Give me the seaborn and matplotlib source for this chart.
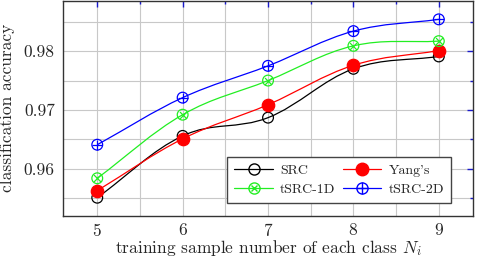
import numpy as np
import pandas as pd
import seaborn as sns
import matplotlib
matplotlib.use("Agg")
import matplotlib.pyplot as plt
from matplotlib.path import Path
from matplotlib.patches import PathPatch
from matplotlib.lines import Line2D
from matplotlib.ticker import MultipleLocator

# ---- data ----
samples = [5, 6, 7, 8, 9]
src = [0.9551, 0.9656, 0.9687, 0.9770, 0.9791]
yang = [0.9563, 0.9651, 0.9709, 0.9776, 0.9801]
tsrc1d = [0.9584, 0.9692, 0.9750, 0.9809, 0.9817]
tsrc2d = [0.9641, 0.9721, 0.9775, 0.9834, 0.9854]
series_names = ["SRC", "Yang's", "tSRC-1D", "tSRC-2D"]
x_label = "training sample number of each class $N_i$"
y_label = "classification accuracy"

sns.set_theme(style="white")
plt.rcParams["font.family"] = ["cmr10", "DejaVu Serif"]
plt.rcParams["mathtext.fontset"] = "cm"
plt.rcParams["axes.formatter.use_mathtext"] = True

df = pd.DataFrame({
    "x": samples * 4,
    "y": src + yang + tsrc1d + tsrc2d,
    "s": sum([[n] * len(samples) for n in series_names], []),
})

fig = plt.figure(figsize=(4.78, 2.58), dpi=100)
ax = fig.add_axes([0.132, 0.163, 0.8575, 0.835])

colors = {"SRC": "black", "Yang's": "red", "tSRC-1D": "#22ee22", "tSRC-2D": "blue"}


def smooth_path(xs, ys, k=0.18):
    xs = np.asarray(xs, float)
    ys = np.asarray(ys, float)
    n = len(xs)
    verts = [(xs[0], ys[0])]
    codes = [Path.MOVETO]
    def tang(i):
        a = max(i - 1, 0)
        b = min(i + 1, n - 1)
        return xs[b] - xs[a], ys[b] - ys[a]
    for i in range(n - 1):
        t0 = tang(i)
        t1 = tang(i + 1)
        f0 = k if 0 < i else k * 2
        f1 = k if i + 1 < n - 1 else k * 2
        verts += [(xs[i] + f0 * t0[0], ys[i] + f0 * t0[1]),
                  (xs[i + 1] - f1 * t1[0], ys[i + 1] - f1 * t1[1]),
                  (xs[i + 1], ys[i + 1])]
        codes += [Path.CURVE4] * 3
    return Path(verts, codes)

vals = {"SRC": src, "Yang's": yang, "tSRC-1D": tsrc1d, "tSRC-2D": tsrc2d}
for name in series_names:
    ax.add_patch(PathPatch(smooth_path(samples, vals[name]), fill=False,
                           edgecolor=colors[name], lw=0.9, zorder=3))

ms = 8
sub = df[df.s == "SRC"]
sns.scatterplot(data=sub, x="x", y="y", ax=ax, marker="o", s=60,
                facecolor="none", edgecolor="black", linewidth=0.9, zorder=4, legend=False)
sub = df[df.s == "Yang's"]
sns.scatterplot(data=sub, x="x", y="y", ax=ax, marker="o", s=80,
                color="red", edgecolor="red", linewidth=0.9, zorder=4, legend=False)
sub = df[df.s == "tSRC-1D"]
sns.scatterplot(data=sub, x="x", y="y", ax=ax, marker="o", s=60,
                facecolor="none", edgecolor=colors["tSRC-1D"], linewidth=0.9, zorder=4, legend=False)
sns.scatterplot(data=sub, x="x", y="y", ax=ax, marker="x", s=25,
                color=colors["tSRC-1D"], linewidth=0.9, zorder=4, legend=False)
sub = df[df.s == "tSRC-2D"]
sns.scatterplot(data=sub, x="x", y="y", ax=ax, marker="o", s=60,
                facecolor="none", edgecolor="blue", linewidth=0.9, zorder=4, legend=False)
sns.scatterplot(data=sub, x="x", y="y", ax=ax, marker="+", s=60,
                color="blue", linewidth=0.9, zorder=4, legend=False)

ax.set_xlim(4.6, 9.4)
ax.set_ylim(0.9520, 0.9886)
ax.xaxis.set_major_locator(MultipleLocator(1))
ax.xaxis.set_minor_locator(MultipleLocator(0.5))
ax.yaxis.set_major_locator(MultipleLocator(0.01))
ax.yaxis.set_minor_locator(MultipleLocator(0.005))
ax.yaxis.set_major_formatter(matplotlib.ticker.FormatStrFormatter("%.2f"))
ax.grid(True, which="both", color="#c8c8c8", lw=0.8, zorder=0)
ax.set_axisbelow(True)
ax.tick_params(which="both", direction="in", top=True, right=True,
               color="#1a1acc", labelsize=12.5)
ax.tick_params(axis="x", pad=4)
ax.tick_params(axis="y", pad=6)
ax.tick_params(which="major", length=4, width=1)
ax.tick_params(which="minor", length=2.5, width=1)
for sp in ax.spines.values():
    sp.set_color("#333333")
    sp.set_linewidth(1.0)
ax.set_xlabel(x_label, fontsize=12.5, labelpad=-0.5)
ax.set_ylabel(y_label, fontsize=12.5, labelpad=6)

g = colors["tSRC-1D"]
h_src = Line2D([], [], color="black", lw=0.9, marker="o", ms=ms, mfc="none", mec="black")
h_yang = Line2D([], [], color="red", lw=0.9, marker="o", ms=9, mfc="red", mec="red")
h_1d = (Line2D([], [], color=g, lw=0.9, marker="o", ms=ms, mfc="none", mec=g),
        Line2D([], [], color=g, lw=0, marker="x", ms=5, mec=g))
h_2d = (Line2D([], [], color="blue", lw=0.9, marker="o", ms=ms, mfc="none", mec="blue"),
        Line2D([], [], color="blue", lw=0, marker="+", ms=ms, mec="blue"))
leg = ax.legend([h_src, h_1d, h_yang, h_2d],
                [series_names[0], series_names[2], series_names[1], series_names[3]],
                ncol=2, loc="lower right", bbox_to_anchor=(0.946, 0.06), borderaxespad=0,
                fontsize=10, frameon=True, fancybox=False, handlelength=2.8,
                columnspacing=0.5, handletextpad=0.5, borderpad=0.5, labelspacing=0.45)
leg.get_frame().set_edgecolor("#444444")
leg.get_frame().set_linewidth(1.0)
leg.get_frame().set_alpha(1)

fig.savefig("out.png", dpi=100)
